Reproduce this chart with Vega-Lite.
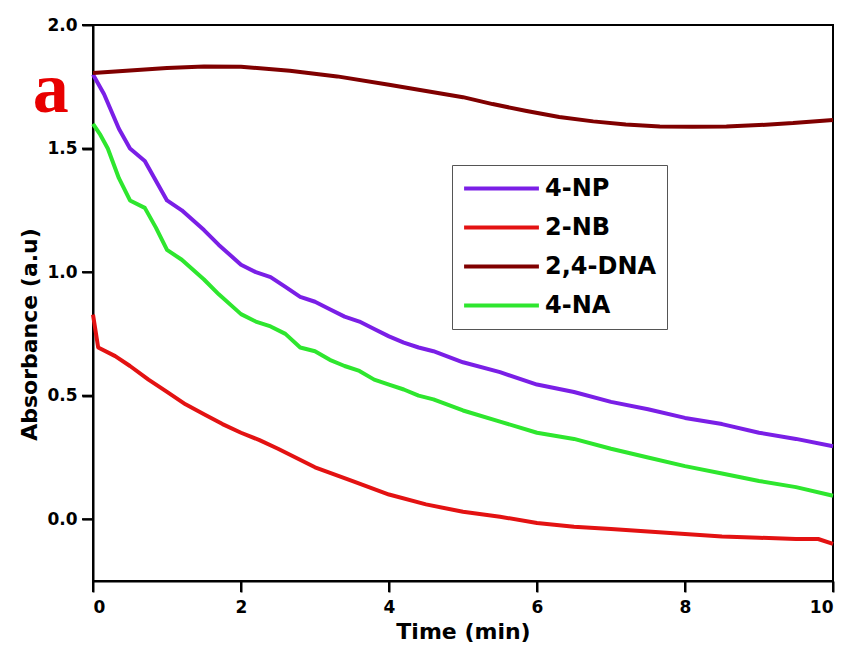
{
  "$schema": "https://vega.github.io/schema/vega-lite/v6.json",
  "width": 740,
  "height": 556,
  "autosize": {"type": "none"},
  "padding": {"left": 93, "top": 25, "right": 19, "bottom": 73},
  "background": "white",
  "config": {
    "font": "DejaVu Sans",
    "view": {"stroke": "black", "strokeWidth": 2},
    "axis": {
      "grid": false,
      "domainColor": "black",
      "domainWidth": 2,
      "tickColor": "black",
      "tickWidth": 2,
      "tickSize": 11,
      "labelFont": "DejaVu Sans",
      "labelFontSize": 17,
      "labelFontWeight": "bold",
      "labelColor": "black",
      "titleFont": "DejaVu Sans",
      "titleFontSize": 22,
      "titleFontWeight": "bold",
      "titleColor": "black"
    }
  },
  "datasets": {
    "curves": [
      {"t": 0, "A": 1.80, "s": "4-NP"},
      {"t": 0.15, "A": 1.72, "s": "4-NP"},
      {"t": 0.35, "A": 1.58, "s": "4-NP"},
      {"t": 0.5, "A": 1.50, "s": "4-NP"},
      {"t": 0.7, "A": 1.45, "s": "4-NP"},
      {"t": 0.85, "A": 1.37, "s": "4-NP"},
      {"t": 1.0, "A": 1.29, "s": "4-NP"},
      {"t": 1.2, "A": 1.25, "s": "4-NP"},
      {"t": 1.5, "A": 1.17, "s": "4-NP"},
      {"t": 1.7, "A": 1.11, "s": "4-NP"},
      {"t": 2.0, "A": 1.03, "s": "4-NP"},
      {"t": 2.2, "A": 1.00, "s": "4-NP"},
      {"t": 2.4, "A": 0.98, "s": "4-NP"},
      {"t": 2.6, "A": 0.94, "s": "4-NP"},
      {"t": 2.8, "A": 0.90, "s": "4-NP"},
      {"t": 3.0, "A": 0.88, "s": "4-NP"},
      {"t": 3.2, "A": 0.85, "s": "4-NP"},
      {"t": 3.4, "A": 0.82, "s": "4-NP"},
      {"t": 3.6, "A": 0.80, "s": "4-NP"},
      {"t": 3.8, "A": 0.77, "s": "4-NP"},
      {"t": 4.0, "A": 0.74, "s": "4-NP"},
      {"t": 4.2, "A": 0.715, "s": "4-NP"},
      {"t": 4.4, "A": 0.695, "s": "4-NP"},
      {"t": 4.6, "A": 0.68, "s": "4-NP"},
      {"t": 5.0, "A": 0.635, "s": "4-NP"},
      {"t": 5.5, "A": 0.595, "s": "4-NP"},
      {"t": 6.0, "A": 0.545, "s": "4-NP"},
      {"t": 6.5, "A": 0.515, "s": "4-NP"},
      {"t": 7.0, "A": 0.475, "s": "4-NP"},
      {"t": 7.5, "A": 0.445, "s": "4-NP"},
      {"t": 8.0, "A": 0.41, "s": "4-NP"},
      {"t": 8.5, "A": 0.385, "s": "4-NP"},
      {"t": 9.0, "A": 0.35, "s": "4-NP"},
      {"t": 9.5, "A": 0.325, "s": "4-NP"},
      {"t": 10.0, "A": 0.295, "s": "4-NP"},

      {"t": 0, "A": 0.828, "s": "2-NB"},
      {"t": 0.07, "A": 0.695, "s": "2-NB"},
      {"t": 0.3, "A": 0.66, "s": "2-NB"},
      {"t": 0.5, "A": 0.62, "s": "2-NB"},
      {"t": 0.75, "A": 0.565, "s": "2-NB"},
      {"t": 1.0, "A": 0.515, "s": "2-NB"},
      {"t": 1.25, "A": 0.465, "s": "2-NB"},
      {"t": 1.5, "A": 0.425, "s": "2-NB"},
      {"t": 1.75, "A": 0.385, "s": "2-NB"},
      {"t": 2.0, "A": 0.35, "s": "2-NB"},
      {"t": 2.25, "A": 0.32, "s": "2-NB"},
      {"t": 2.5, "A": 0.285, "s": "2-NB"},
      {"t": 3.0, "A": 0.21, "s": "2-NB"},
      {"t": 3.5, "A": 0.155, "s": "2-NB"},
      {"t": 4.0, "A": 0.10, "s": "2-NB"},
      {"t": 4.5, "A": 0.06, "s": "2-NB"},
      {"t": 5.0, "A": 0.03, "s": "2-NB"},
      {"t": 5.5, "A": 0.01, "s": "2-NB"},
      {"t": 6.0, "A": -0.015, "s": "2-NB"},
      {"t": 6.5, "A": -0.03, "s": "2-NB"},
      {"t": 7.0, "A": -0.04, "s": "2-NB"},
      {"t": 7.5, "A": -0.05, "s": "2-NB"},
      {"t": 8.0, "A": -0.06, "s": "2-NB"},
      {"t": 8.5, "A": -0.07, "s": "2-NB"},
      {"t": 9.0, "A": -0.075, "s": "2-NB"},
      {"t": 9.5, "A": -0.08, "s": "2-NB"},
      {"t": 9.8, "A": -0.08, "s": "2-NB"},
      {"t": 10.0, "A": -0.10, "s": "2-NB"},

      {"t": 0, "A": 1.806, "s": "2,4-DNA"},
      {"t": 0.5, "A": 1.816, "s": "2,4-DNA"},
      {"t": 1.0, "A": 1.826, "s": "2,4-DNA"},
      {"t": 1.5, "A": 1.832, "s": "2,4-DNA"},
      {"t": 2.0, "A": 1.831, "s": "2,4-DNA"},
      {"t": 2.66, "A": 1.815, "s": "2,4-DNA"},
      {"t": 3.3, "A": 1.792, "s": "2,4-DNA"},
      {"t": 4.0, "A": 1.758, "s": "2,4-DNA"},
      {"t": 4.5, "A": 1.733, "s": "2,4-DNA"},
      {"t": 5.0, "A": 1.708, "s": "2,4-DNA"},
      {"t": 5.4, "A": 1.68, "s": "2,4-DNA"},
      {"t": 5.86, "A": 1.652, "s": "2,4-DNA"},
      {"t": 6.3, "A": 1.628, "s": "2,4-DNA"},
      {"t": 6.76, "A": 1.61, "s": "2,4-DNA"},
      {"t": 7.2, "A": 1.597, "s": "2,4-DNA"},
      {"t": 7.66, "A": 1.589, "s": "2,4-DNA"},
      {"t": 8.1, "A": 1.588, "s": "2,4-DNA"},
      {"t": 8.56, "A": 1.589, "s": "2,4-DNA"},
      {"t": 9.0, "A": 1.595, "s": "2,4-DNA"},
      {"t": 9.46, "A": 1.603, "s": "2,4-DNA"},
      {"t": 10.0, "A": 1.616, "s": "2,4-DNA"},

      {"t": 0, "A": 1.60, "s": "4-NA"},
      {"t": 0.1, "A": 1.555, "s": "4-NA"},
      {"t": 0.2, "A": 1.50, "s": "4-NA"},
      {"t": 0.35, "A": 1.38, "s": "4-NA"},
      {"t": 0.5, "A": 1.29, "s": "4-NA"},
      {"t": 0.7, "A": 1.26, "s": "4-NA"},
      {"t": 0.85, "A": 1.18, "s": "4-NA"},
      {"t": 1.0, "A": 1.09, "s": "4-NA"},
      {"t": 1.2, "A": 1.05, "s": "4-NA"},
      {"t": 1.5, "A": 0.97, "s": "4-NA"},
      {"t": 1.7, "A": 0.91, "s": "4-NA"},
      {"t": 2.0, "A": 0.83, "s": "4-NA"},
      {"t": 2.2, "A": 0.80, "s": "4-NA"},
      {"t": 2.4, "A": 0.78, "s": "4-NA"},
      {"t": 2.6, "A": 0.75, "s": "4-NA"},
      {"t": 2.8, "A": 0.695, "s": "4-NA"},
      {"t": 3.0, "A": 0.68, "s": "4-NA"},
      {"t": 3.2, "A": 0.645, "s": "4-NA"},
      {"t": 3.4, "A": 0.62, "s": "4-NA"},
      {"t": 3.6, "A": 0.60, "s": "4-NA"},
      {"t": 3.8, "A": 0.565, "s": "4-NA"},
      {"t": 4.0, "A": 0.545, "s": "4-NA"},
      {"t": 4.2, "A": 0.525, "s": "4-NA"},
      {"t": 4.4, "A": 0.50, "s": "4-NA"},
      {"t": 4.6, "A": 0.485, "s": "4-NA"},
      {"t": 5.0, "A": 0.44, "s": "4-NA"},
      {"t": 5.5, "A": 0.395, "s": "4-NA"},
      {"t": 6.0, "A": 0.35, "s": "4-NA"},
      {"t": 6.5, "A": 0.325, "s": "4-NA"},
      {"t": 7.0, "A": 0.285, "s": "4-NA"},
      {"t": 7.5, "A": 0.25, "s": "4-NA"},
      {"t": 8.0, "A": 0.215, "s": "4-NA"},
      {"t": 8.5, "A": 0.185, "s": "4-NA"},
      {"t": 9.0, "A": 0.155, "s": "4-NA"},
      {"t": 9.5, "A": 0.13, "s": "4-NA"},
      {"t": 10.0, "A": 0.095, "s": "4-NA"}
    ],
    "xticks": [{"t": 0}, {"t": 2}, {"t": 4}, {"t": 6}, {"t": 8}, {"t": 10}],
    "yticks": [{"A": 0}, {"A": 0.5}, {"A": 1.0}, {"A": 1.5}, {"A": 2.0}],
    "label": [{"t": -0.57, "A": 1.648, "txt": "a"}]
  },
  "layer": [
    {
      "data": {"name": "curves"},
      "mark": {"type": "line", "strokeWidth": 4, "interpolate": "linear", "strokeJoin": "round"},
      "encoding": {
        "x": {
          "field": "t", "type": "quantitative",
          "scale": {"domain": [0, 10], "nice": false},
          "axis": {"title": "Time (min)", "values": [0, 2, 4, 6, 8, 10], "format": "d", "titlePadding": 6, "labelPadding": 7}
        },
        "y": {
          "field": "A", "type": "quantitative",
          "scale": {"domain": [-0.25, 2.0], "nice": false, "zero": false},
          "axis": {"title": "Absorbance (a.u)", "values": [0, 0.5, 1, 1.5, 2], "format": ".1f", "titlePadding": 5, "labelPadding": 5, "titleY": 309}
        },
        "color": {
          "field": "s", "type": "nominal",
          "scale": {
            "domain": ["4-NP", "2-NB", "2,4-DNA", "4-NA"],
            "range": ["#7a1fe6", "#e31212", "#800000", "#2ee62e"]
          },
          "legend": {
            "title": null,
            "orient": "none",
            "legendX": 359,
            "legendY": 140,
            "strokeColor": "#555555",
            "padding": 10,
            "symbolType": "M-1,0H1",
            "symbolSize": 5600,
            "symbolStrokeWidth": 4,
            "clipHeight": 27,
            "labelFontSize": 24,
            "labelFontWeight": "bold",
            "labelColor": "black",
            "labelFont": "DejaVu Sans",
            "labelOffset": 4,
            "rowPadding": 12
          }
        }
      }
    },
    {
      "data": {"name": "xticks"},
      "mark": {"type": "rule", "color": "black", "strokeWidth": 2, "clip": false},
      "encoding": {
        "x": {"field": "t", "type": "quantitative"},
        "y": {"datum": -0.25},
        "y2": {"datum": -0.2944}
      }
    },
    {
      "data": {"name": "yticks"},
      "mark": {"type": "rule", "color": "black", "strokeWidth": 2, "clip": false},
      "encoding": {
        "y": {"field": "A", "type": "quantitative"},
        "x": {"datum": 0},
        "x2": {"datum": -0.1486}
      }
    },
    {
      "data": {"name": "label"},
      "mark": {"type": "text", "font": "Liberation Serif", "fontWeight": "bold", "fontSize": 72, "color": "#e80000", "align": "center", "baseline": "alphabetic", "clip": false},
      "encoding": {
        "x": {"field": "t", "type": "quantitative"},
        "y": {"field": "A", "type": "quantitative"},
        "text": {"field": "txt"}
      }
    }
  ]
}
